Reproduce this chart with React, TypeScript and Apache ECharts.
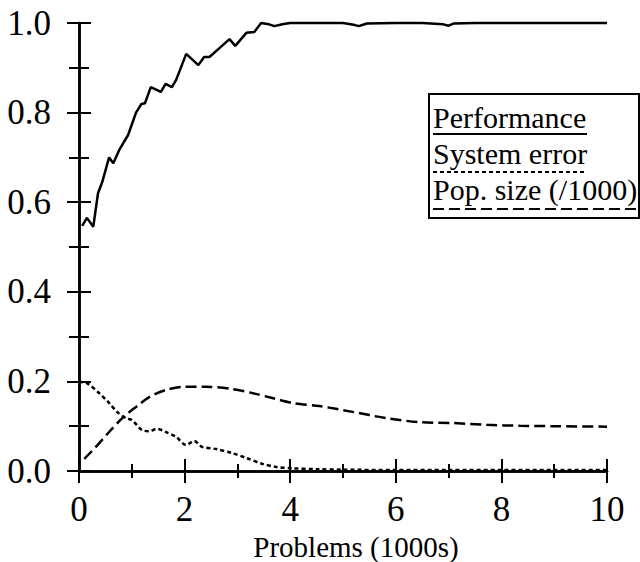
import React, { useEffect, useRef } from "react";
import * as echarts from "echarts";

// Performance (solid)
const perfX = [0.06, 0.15, 0.27, 0.36, 0.44, 0.57, 0.65, 0.76, 0.93, 1.08, 1.18, 1.25, 1.36, 1.55, 1.64, 1.76, 1.84, 2.03, 2.26, 2.37, 2.47, 2.66, 2.85, 2.96, 3.17, 3.32, 3.45, 3.6, 3.7, 3.85, 4.0, 4.5, 5.0, 5.2, 5.3, 5.45, 6.0, 6.5, 6.9, 7.0, 7.1, 7.5, 8.0, 9.0, 10.0];
const perfY = [0.547, 0.565, 0.545, 0.62, 0.645, 0.70, 0.687, 0.716, 0.75, 0.80, 0.819, 0.821, 0.857, 0.846, 0.864, 0.857, 0.873, 0.931, 0.906, 0.924, 0.924, 0.944, 0.964, 0.949, 0.978, 0.98, 1.0, 0.997, 0.993, 0.997, 1.0, 1.0, 1.0, 0.996, 0.993, 0.999, 1.0, 1.0, 0.997, 0.994, 0.999, 1.0, 1.0, 1.0, 1.0];

// System error (dotted)
const errX = [0, 0.15, 0.38, 0.57, 0.72, 0.89, 1.0, 1.2, 1.33, 1.48, 1.65, 1.84, 2.03, 2.18, 2.33, 2.6, 2.9, 3.17, 3.47, 3.74, 4.04, 4.5, 5, 6, 7, 8, 9, 10];
const errY = [0.199, 0.196, 0.174, 0.152, 0.132, 0.118, 0.114, 0.091, 0.089, 0.094, 0.087, 0.076, 0.058, 0.067, 0.054, 0.049, 0.04, 0.029, 0.016, 0.009, 0.006, 0.004, 0.003, 0.002, 0.002, 0.002, 0.002, 0.002];

// Pop. size (/1000) (dashed)
const popX = [0.1, 0.32, 0.57, 0.82, 1.08, 1.33, 1.65, 2.03, 2.4, 2.9, 3.28, 3.66, 4.04, 4.55, 5.18, 5.82, 6.45, 7.08, 7.72, 8.35, 8.98, 10];
const popY = [0.027, 0.054, 0.087, 0.118, 0.143, 0.165, 0.181, 0.188, 0.188, 0.183, 0.174, 0.163, 0.152, 0.145, 0.132, 0.118, 0.109, 0.107, 0.103, 0.101, 0.1, 0.099];

const legendNames = ["Performance", "System error", "Pop. size (/1000)"];
const xTitle = "Problems (1000s)";

const FONT = "Liberation Serif";

const zip = (xs: number[], ys: number[]) => xs.map((x, i) => [x, ys[i]]);

export default function App() {
  const ref = useRef<HTMLDivElement>(null);
  useEffect(() => {
    if (!ref.current) return;
    const chart = echarts.init(ref.current, null, { renderer: "svg" });
    const axisLine = { show: true, lineStyle: { color: "#000", width: 2.5 } };
    const xCommon = {
      type: "value",
      min: 0,
      max: 10,
      interval: 2,
      axisLine,
      axisTick: { show: true, inside: true, length: 12, lineStyle: { color: "#000", width: 2 } },
      minorTick: { show: true, splitNumber: 2, length: 7, lineStyle: { color: "#000", width: 2 } },
      splitLine: { show: false },
      minorSplitLine: { show: false },
    };
    const yCommon = {
      type: "value",
      min: 0,
      max: 1,
      interval: 0.2,
      axisLine,
      axisTick: { show: true, inside: true, length: 12, lineStyle: { color: "#000", width: 2 } },
      minorTick: { show: true, splitNumber: 2, length: 10, lineStyle: { color: "#000", width: 2 } },
      splitLine: { show: false },
      minorSplitLine: { show: false },
    };
    const lx = 433;
    const legendText = (text: string, y: number) => ({
      type: "text",
      style: { text, x: lx, y, fill: "#000", fontSize: 30, fontFamily: FONT, verticalAlign: "middle" },
    });
    chart.setOption({
      animation: false,
      backgroundColor: "#fff",
      grid: { left: 79, right: 33, top: 23, bottom: 91, containLabel: false, outerBoundsMode: "none" },
      xAxis: [
        {
          ...xCommon,
          position: "bottom",
          axisLabel: { show: true, color: "#000", fontSize: 35, fontFamily: FONT, margin: 21 },
          name: xTitle,
          nameLocation: "middle",
          nameGap: 61,
          nameTextStyle: { color: "#000", fontSize: 29, fontFamily: FONT, padding: [0, 0, 0, 26] },
        },
        { ...xCommon, position: "top", axisLabel: { show: false } },
      ],
      yAxis: [
        {
          ...yCommon,
          position: "left",
          axisLabel: {
            show: true,
            color: "#000",
            fontSize: 35,
            fontFamily: FONT,
            margin: 28,
            formatter: (v: number) => v.toFixed(1),
          },
        },
        { ...yCommon, position: "right", axisLabel: { show: false } },
      ],
      series: [
        {
          name: legendNames[0],
          type: "line",
          data: zip(perfX, perfY),
          showSymbol: false,
          clip: false,
          lineStyle: { color: "#000", width: 2.5, type: "solid" },
        },
        {
          name: legendNames[1],
          type: "line",
          data: zip(errX, errY),
          showSymbol: false,
          smooth: 0.3,
          lineStyle: { color: "#000", width: 2.5, type: [4, 3] },
        },
        {
          name: legendNames[2],
          type: "line",
          data: zip(popX, popY),
          showSymbol: false,
          smooth: 0.3,
          lineStyle: { color: "#000", width: 2.5, type: [11, 5] },
        },
      ],
      graphic: [
        {
          type: "group",
          z: 100,
          children: [
            {
              type: "rect",
              shape: { x: 429, y: 94, width: 210, height: 124 },
              style: { fill: "#fff", stroke: "#000", lineWidth: 2 },
            },
            legendText(legendNames[0], 117),
            {
              type: "line",
              shape: { x1: lx, y1: 134, x2: 587, y2: 134 },
              style: { stroke: "#000", lineWidth: 2 },
            },
            legendText(legendNames[1], 153),
            {
              type: "line",
              shape: { x1: lx, y1: 172, x2: 585, y2: 172 },
              style: { stroke: "#000", lineWidth: 2, lineDash: [4, 3] },
            },
            legendText(legendNames[2], 189),
            {
              type: "line",
              shape: { x1: lx, y1: 209, x2: 637, y2: 209 },
              style: { stroke: "#000", lineWidth: 2, lineDash: [11, 5] },
            },
          ],
        },
      ],
    });
    return () => chart.dispose();
  }, []);
  return (
    <div
      ref={ref}
      style={{ position: "absolute", left: 0, top: 0, width: 640, height: 562 }}
    />
  );
}
